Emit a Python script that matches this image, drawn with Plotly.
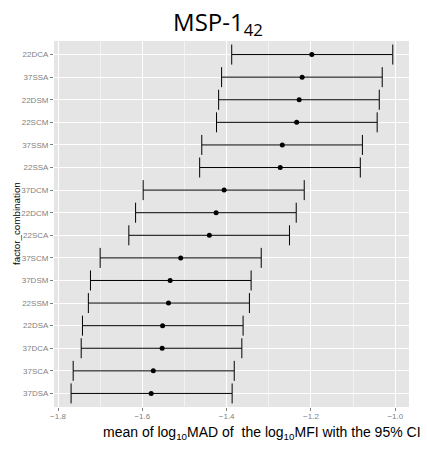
import plotly.graph_objects as go

categories = ["22DCA", "37SSA", "22DSM", "22SCM", "37SSM", "22SSA", "37DCM", "22DCM",
              "22SCA", "37SCM", "37DSM", "22SSM", "22DSA", "37DCA", "37SCA", "37DSA"]
means = [-1.198, -1.221, -1.228, -1.234, -1.268, -1.273, -1.406, -1.425,
         -1.441, -1.509, -1.534, -1.538, -1.552, -1.553, -1.574, -1.579]
lower = [-1.388, -1.412, -1.419, -1.424, -1.459, -1.464, -1.598, -1.616,
         -1.632, -1.700, -1.723, -1.728, -1.742, -1.745, -1.764, -1.769]
upper = [-1.006, -1.031, -1.038, -1.043, -1.078, -1.083, -1.216, -1.235,
         -1.251, -1.318, -1.342, -1.346, -1.361, -1.364, -1.382, -1.387]
x_ticks = [-1.8, -1.6, -1.4, -1.2, -1.0]
x_tick_labels = ["\u22121.8", "\u22121.6", "\u22121.4", "\u22121.2", "\u22121.0"]

err_plus = [u - m for u, m in zip(upper, means)]
err_minus = [m - l for m, l in zip(means, lower)]

fig = go.Figure()
fig.add_trace(go.Scatter(
    x=means, y=categories, mode="markers",
    marker=dict(color="black", size=5),
    error_x=dict(type="data", symmetric=False, array=err_plus, arrayminus=err_minus,
                 color="black", thickness=1, width=10),
    showlegend=False, hoverinfo="skip",
))

tick_font = dict(family="Liberation Sans, Arial, sans-serif", size=8, color="#7F7F7F")

fig.update_layout(
    width=427, height=457,
    margin=dict(l=54, r=18, t=41, b=50),
    paper_bgcolor="white",
    plot_bgcolor="#E5E5E5",
    title=dict(text="MSP-1<sub>42</sub>", x=218 / 427, xanchor="center",
               y=1 - 23 / 457, yanchor="middle", yref="container",
               font=dict(family="Open Sans, Noto Sans, sans-serif", size=24, color="black")),
    xaxis=dict(
        range=[-1.8095, -0.9675], tickvals=x_ticks, ticktext=x_tick_labels,
        showgrid=True, gridcolor="white", gridwidth=1.2, zeroline=False,
        ticks="outside", ticklen=3, tickcolor="#7F7F7F", tickwidth=1,
        tickfont=tick_font, showline=False, ticklabelstandoff=-2,
        minor=dict(tick0=-1.8, dtick=0.1, showgrid=True, gridcolor="#F2F2F2", gridwidth=0.6, ticks=""),
    ),
    yaxis=dict(
        categoryorder="array", categoryarray=categories,
        autorange=False, range=[15.6, -0.6],
        showgrid=True, gridcolor="white", gridwidth=1.2, zeroline=False,
        ticks="outside", ticklen=3, tickcolor="#7F7F7F", tickwidth=1,
        tickfont=tick_font, showline=False, ticklabelstandoff=0,
    ),
    annotations=[
        dict(text="mean of log<sub>10</sub>MAD of  the log<sub>10</sub>MFI with the 95% CI",
             xref="paper", yref="paper", x=(262 - 54) / 355, y=0, yshift=-26,
             xanchor="center", yanchor="middle", showarrow=False,
             font=dict(family="Liberation Sans, Arial, sans-serif", size=14, color="black")),
        dict(text="factor_combination", textangle=-90,
             xref="paper", yref="paper", x=0, xshift=-38, y=0.5,
             xanchor="center", yanchor="middle", showarrow=False,
             font=dict(family="Liberation Sans, Arial, sans-serif", size=9.8, color="black")),
    ],
)

fig.write_html("out.html", config={"displayModeBar": False},
               post_script="document.body.style.margin='0';document.body.style.overflow='hidden';")
